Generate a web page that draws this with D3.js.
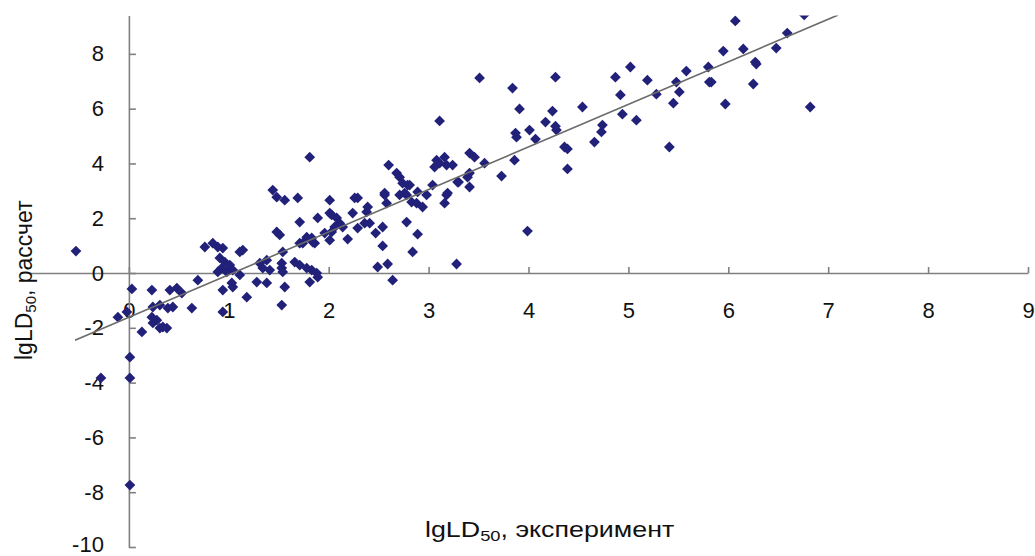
<!DOCTYPE html>
<html>
<head>
<meta charset="utf-8">
<script src="https://cdn.jsdelivr.net/npm/d3@7"></script>
<style>
  body { margin: 0; background: #fff; }
  text { font-family: "Liberation Sans", Arial, sans-serif; }
</style>
</head>
<body>
<div id="chart"></div>
<script>
const xExp = [-0.53,-0.11,-0.02,-0.28,0.01,0.01,0.01,0.03,0.13,0.23,0.41,0.48,0.53,0.69,0.63,0.44,0.39,0.24,0.31,0.23,
  0.28,0.34,0.38,0.31,0.24,0.76,0.84,0.89,0.94,1.11,1.14,0.91,0.96,1.01,1.04,0.93,0.98,0.89,1.11,1.03,
  0.94,1.04,1.18,0.94,1.31,1.38,1.34,1.41,1.28,1.38,1.48,1.51,1.54,1.53,1.53,1.54,1.56,1.53,1.44,1.48,
  1.56,1.69,1.71,1.71,1.66,1.71,1.78,1.83,1.88,1.81,1.89,1.78,1.83,1.86,2.01,1.81,2.01,2.03,2.08,2.11,
  2.06,2.03,2.01,1.96,1.89,1.84,1.74,2.14,2.19,2.24,2.26,2.29,2.29,2.38,2.39,2.36,2.41,2.47,2.54,2.54,
  2.56,2.58,2.49,2.59,2.64,2.71,2.78,2.83,2.88,2.94,2.89,2.98,2.74,2.81,2.78,2.89,2.84,3.18,3.16,3.28,
  3.30,3.41,3.99,2.60,2.68,2.71,2.79,2.76,2.56,3.04,3.11,3.08,3.11,3.16,3.18,3.06,3.24,3.41,3.46,3.41,
  3.39,3.29,3.19,3.56,3.51,3.73,3.84,3.91,3.87,3.88,3.86,4.01,4.07,4.17,4.24,4.27,4.27,4.28,4.36,4.39,
  4.39,4.54,4.66,4.73,4.74,4.87,4.92,5.02,4.94,5.08,5.19,5.28,5.41,5.45,5.51,5.48,5.58,5.80,5.81,5.83,
  5.97,5.95,6.15,6.07,6.25,6.27,6.28,6.48,6.59,6.76,6.82];
const yCalc = [0.80,-1.61,-1.42,-3.83,-3.07,-3.83,-7.74,-0.58,-2.15,-0.62,-0.62,-0.55,-0.73,-0.26,-1.28,-1.24,-1.28,-1.24,-1.17,-1.61,
  -1.72,-1.97,-2.01,-2.01,-1.82,0.95,1.09,0.95,0.91,0.77,0.84,0.55,0.40,0.29,0.11,0.18,0.04,0.04,-0.07,-0.36,
  -0.62,-0.51,-0.88,-1.42,0.36,0.47,0.18,0.11,-0.33,-0.36,1.50,1.39,0.77,0.36,0.18,0.04,-0.51,-1.17,3.03,2.77,
  2.66,2.74,1.86,1.09,0.40,0.29,0.18,0.11,0.00,-0.33,-0.15,1.31,1.28,1.09,2.66,4.23,2.19,2.12,2.01,1.82,
  1.68,1.50,1.20,1.46,2.01,1.13,1.09,1.68,1.24,2.19,2.74,2.74,1.64,2.23,2.41,1.82,1.82,1.46,1.68,0.99,
  2.85,2.55,0.22,0.33,-0.26,2.85,2.85,2.59,2.55,2.41,2.96,2.85,3.28,3.21,1.86,1.42,0.77,2.85,2.55,0.33,
  3.32,3.14,1.53,3.94,3.65,3.50,3.21,2.92,2.92,3.21,5.55,4.12,4.01,4.23,3.94,3.87,3.94,4.38,4.23,3.65,
  3.50,3.32,2.92,4.01,7.12,3.54,6.75,5.99,5.11,4.96,4.12,5.22,4.89,5.51,5.91,7.15,5.36,5.22,4.60,4.53,
  3.80,6.06,4.78,5.15,5.40,7.15,6.50,7.52,5.80,5.58,7.04,6.53,4.60,6.20,6.61,6.97,7.37,7.52,6.97,6.97,
  6.17,8.10,8.18,9.20,6.90,7.70,7.63,8.21,8.76,9.42,6.06];
const xTicks = [0,1,2,3,4,5,6,7,8,9];
const yTicks = [-10,-8,-6,-4,-2,0,2,4,6,8];
// trend line end points
const trendX = [-0.54, 7.1];
const trendY = [-2.45, 9.42];

const width = 1035, height = 556;

const svg = d3.select("#chart").append("svg")
  .attr("width", width).attr("height", height);

const xScale = d3.scaleLinear().domain([-1, 9]).range([29, 1028]);
const yScale = d3.scaleLinear().domain([-10, 9.4]).range([547, 15.5]);

svg.append("clipPath").attr("id", "plot")
  .append("rect").attr("x", 0).attr("y", yScale(9.4)).attr("width", width).attr("height", height);

// axes cross at 0, plain hyphen for minus like the original
const fmt = d => String(d);
const xAxis = d3.axisBottom(xScale).tickValues(xTicks).tickFormat(fmt).tickSizeInner(-6).tickSizeOuter(0).tickPadding(29);
const yAxis = d3.axisLeft(yScale).tickValues(yTicks).tickFormat(fmt).tickSizeInner(-7).tickSizeOuter(0).tickPadding(25);

const gx = svg.append("g").attr("transform", `translate(0,${yScale(0)})`).call(xAxis);
const gy = svg.append("g").attr("transform", `translate(${xScale(0)},0)`).call(yAxis);

[gx, gy].forEach(g => {
  g.selectAll("path, line").attr("stroke", "#808080").attr("stroke-width", 1.6);
  g.selectAll("text").attr("font-size", 22).attr("fill", "#111")
    .attr("font-family", "'Liberation Sans', Arial, sans-serif");
});
gy.selectAll(".tick").filter(d => d === -10).select("text").attr("dy", "0.2em");

// points
const pts = svg.append("g").attr("clip-path", "url(#plot)");
const diamond = d3.symbol().type(d3.symbolSquare).size(58);
xExp.forEach((x, i) => {
  pts.append("path")
    .attr("d", diamond)
    .attr("transform", `translate(${xScale(x)},${yScale(yCalc[i])}) rotate(45)`)
    .attr("fill", "#22217a");
});

// trend line
pts.append("line")
  .attr("x1", xScale(trendX[0])).attr("y1", yScale(trendY[0]))
  .attr("x2", xScale(trendX[1])).attr("y2", yScale(trendY[1]))
  .attr("stroke", "#6b6b6b").attr("stroke-width", 1.6);

// axis titles
const xt = svg.append("text").attr("transform", "translate(425,537) scale(1.22,1)")
  .attr("font-size", 22).attr("fill", "#111");
xt.append("tspan").text("lgLD");
xt.append("tspan").attr("font-size", 15).attr("dy", 4).text("50");
xt.append("tspan").attr("dy", -4).text(", эксперимент");

const yt = svg.append("text").attr("transform", "translate(32,360) rotate(-90)")
  .attr("font-size", 23).attr("fill", "#111");
yt.append("tspan").text("lgLD");
yt.append("tspan").attr("font-size", 15).attr("dy", 4).text("50");
yt.append("tspan").attr("dy", -4).text(", рассчет");
</script>
</body>
</html>
